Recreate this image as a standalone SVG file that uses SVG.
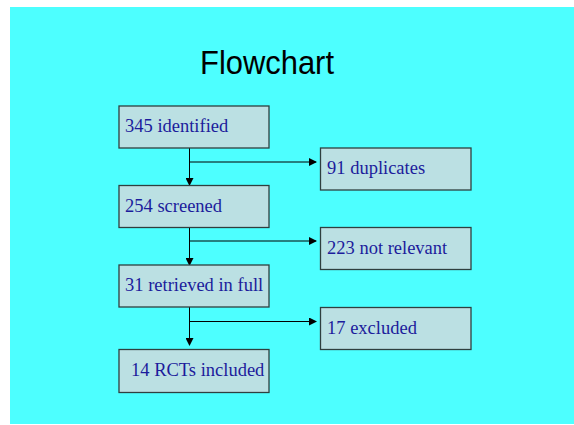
<svg xmlns="http://www.w3.org/2000/svg" width="574" height="425" viewBox="0 0 574 425">
<defs>
<marker id="ah" markerWidth="8" markerHeight="8" refX="7" refY="4" orient="auto" markerUnits="userSpaceOnUse">
<path d="M0,0 L8,4 L0,8 Z" fill="#000"/>
</marker>
<style>
.box{fill:#BBE0E3;stroke:#2F3F3F;stroke-width:1.3}
.lbl{font-family:"Liberation Serif","Times New Roman",serif;font-size:18.5px;fill:#1C1C9C}
.con{stroke:#000;stroke-width:1;fill:none}
</style>
</defs>
<rect x="0" y="0" width="574" height="425" fill="#fff"/>
<rect x="10" y="7" width="564" height="417" fill="#4DFFFF"/>
<text x="200" y="74" textLength="134" lengthAdjust="spacingAndGlyphs" font-family="Liberation Sans, Arial, sans-serif" font-size="34" fill="#000">Flowchart</text>
<g id="connectors">
<line class="con" x1="189.5" y1="148" x2="189.5" y2="185" marker-end="url(#ah)"/>
<line class="con" x1="189.5" y1="162" x2="316" y2="162" marker-end="url(#ah)"/>
<line class="con" x1="189.5" y1="228" x2="189.5" y2="265" marker-end="url(#ah)"/>
<line class="con" x1="189.5" y1="241" x2="316" y2="241" marker-end="url(#ah)"/>
<line class="con" x1="189.5" y1="307" x2="189.5" y2="345" marker-end="url(#ah)"/>
<line class="con" x1="189.5" y1="321.5" x2="316" y2="321.5" marker-end="url(#ah)"/>
</g>
<g id="n1"><rect class="box" x="119" y="106" width="150" height="42"/><text class="lbl" x="125" y="132">345 identified</text></g>
<g id="n2"><rect class="box" x="119" y="185.5" width="150" height="42"/><text class="lbl" x="125" y="211.5">254 screened</text></g>
<g id="n3"><rect class="box" x="119" y="265" width="150" height="42"/><text class="lbl" x="125" y="291">31 retrieved in full</text></g>
<g id="n4"><rect class="box" x="119" y="349.5" width="150" height="43"/><text class="lbl" x="131" y="375.5">14 RCTs included</text></g>
<g id="d1"><rect class="box" x="320.5" y="148" width="150.5" height="42"/><text class="lbl" x="327" y="174">91 duplicates</text></g>
<g id="d2"><rect class="box" x="320.5" y="227.5" width="150.5" height="42"/><text class="lbl" x="327" y="253.5">223 not relevant</text></g>
<g id="d3"><rect class="box" x="320.5" y="307.5" width="150.5" height="42"/><text class="lbl" x="327" y="334">17 excluded</text></g>
</svg>
